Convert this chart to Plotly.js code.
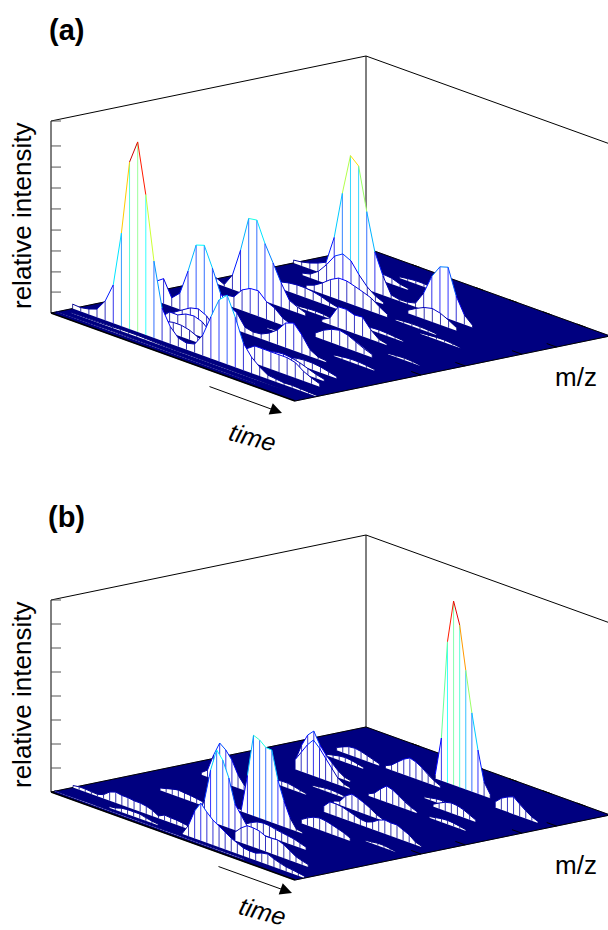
<!DOCTYPE html>
<html><head><meta charset="utf-8">
<script src="https://cdn.plot.ly/plotly-3.0.1.min.js"></script>
<style>html,body{margin:0;padding:0;background:#fff}</style></head>
<body><div id="chart" style="width:608px;height:930px"></div>
<script>
// ---- relative intensity; each row is one m/z, "from" = first scan index ----
const rowsA = [
 {mz:.90,  from:8,  h:[.006,.012,.016,.016,.012,.006]},
 {mz:.85,  from:5,  h:[.01,.02,.03,.035,.03,.015,.008]},
 {mz:.77,  from:0,  h:[.015,.02,.03,.045,.065,.21,.455,.666,.627,.405,.21,.10,.017,.008,.01,.02,.088,.19,.255,.268,.133,.05,.012]},
 {mz:.72,  from:3,  h:[.01,.02,.05,.1,.16,.186,.165,.107,.06,.028,.01]},
 {mz:.72,  from:16, h:[.015,.04,.06,.07,.06,.04,.015]},
 {mz:.655, from:6,  h:[.015,.03,.057,.09,.113,.113,.10,.086,.07,.04,.015]},
 {mz:.655, from:17, h:[.006,.01,.012,.012,.01,.006]},
 {mz:.63,  from:21, h:[.004,.008,.012,.012,.008,.004]},
 {mz:.60,  from:3,  h:[.01,.02,.035,.045,.05,.05,.045,.035,.02,.01]},
 {mz:.55,  from:16, h:[.006,.01,.014,.016,.014,.01,.006]},
 {mz:.53,  from:9,  h:[.004,.008,.012,.014,.012,.006]},
 {mz:.4985,from:0,  h:[.02,.03,.01,.075,.22,.40,.407,.30,.214,.125,.05,.03,.015]},
 {mz:.4985,from:14, h:[.012,.035,.108,.11,.096,.10,.05,.015,.006]},
 {mz:.45,  from:24, h:[.004,.008,.01,.008,.004]},
 {mz:.40,  from:3,  h:[.012,.02,.03,.05,.056,.107,.13,.133,.092,.074,.037,.02]},
 {mz:.40,  from:17, h:[.02,.05,.07,.08,.07,.05,.03,.015]},
 {mz:.35,  from:13, h:[.004,.008,.012,.012,.008,.004]},
 {mz:.33,  from:22, h:[.006,.012,.016,.016,.012,.006]},
 {mz:.28,  from:0,  h:[.02,.05,.1,.13,.045,.085,.215,.366,.38,.277,.16,.11,.09,.03,.02,.025,.045,.077,.128,.143,.096,.035,.012,.008]},
 {mz:.21,  from:6,  h:[.02,.04,.067,.093,.103,.082,.034,.012]},
 {mz:.21,  from:20, h:[.008,.015,.03,.035,.035,.03,.02,.01]},
 {mz:.17,  from:7,  h:[.03,.07,.07,.09,.095,.08,.042,.02,.01]},
 {mz:.17,  from:18, h:[.015,.03,.05,.06,.065,.06,.05,.035,.02,.01]},
 {mz:.13,  from:8,  h:[.02,.05,.06,.06,.05,.03,.02,.012]},
 {mz:.13,  from:17, h:[.015,.03,.06,.09,.09,.09,.09,.09,.08,.05,.03,.015]},
 {mz:.0686,from:0,  h:[.023,.02,.028,.043,.10,.2,.485,.87,.99,.73,.40,.17,.09,.045,.034,.044,.106,.217,.32,.36,.26,.14,.083,.047,.02,.015,.01,.012,.01,.008,.006]},
 {mz:.04,  from:1,  h:[.003,.004,.004,.004,.005,.006,.008,.009,.009,.008,.006,.004,.003,.003,.004,.004,.003,.003,.004,.004,.003,.003,.003,.004,.003,.003,.003]},
 {mz:.018, from:0,  h:[.002,.003,.003,.003,.003,.003,.004,.004,.003,.003,.003,.003,.003,.003,.003,.003,.003,.003,.003,.003,.003,.003,.002,.002,.002,.002,.002,.002]}
];
const rowsB = [
 {mz:.852, from:19, h:[.02,.222,.735,.958,.845,.62,.41,.228,.073,.02]},
 {mz:.81,  from:5,  h:[.015,.03,.042,.045,.04,.03,.02,.01]},
 {mz:.81,  from:13, h:[.012,.027,.054,.08,.098,.088,.07,.044,.024,.01]},
 {mz:.81,  from:31, h:[.03,.06,.078,.09,.064,.04,.02,.008]},
 {mz:.76,  from:6,  h:[.008,.015,.022,.025,.022,.015,.008]},
 {mz:.72,  from:24, h:[.006,.012,.018,.02,.02,.016,.01,.005]},
 {mz:.69,  from:27, h:[.012,.03,.045,.053,.05,.04,.025,.01]},
 {mz:.66,  from:6,  h:[.015,.10,.165,.197,.136,.095,.065,.035,.015,.008]},
 {mz:.62,  from:8,  h:[.05,.10,.15,.187,.156,.115,.075,.035,.015,.008]},
 {mz:.62,  from:20, h:[.01,.025,.058,.085,.076,.056,.036,.02,.008]},
 {mz:.62,  from:30, h:[.006,.012,.018,.02,.018,.012,.006]},
 {mz:.56,  from:14, h:[.005,.01,.014,.016,.014,.01,.005]},
 {mz:.51,  from:20, h:[.01,.02,.06,.08,.07,.057,.04,.02,.008]},
 {mz:.50,  from:9,  h:[.006,.012,.02,.025,.025,.02,.012,.006]},
 {mz:.44,  from:22, h:[.03,.063,.064,.06,.05,.04,.03,.027,.039,.06,.072,.068,.069,.054,.04,.015,.005]},
 {mz:.40,  from:4,  h:[.012,.036,.126,.2,.175,.134,.068,.027,.01]},
 {mz:.36,  from:33, h:[.004,.008,.012,.012,.008,.004]},
 {mz:.33,  from:24, h:[.02,.04,.055,.062,.058,.05,.04,.03,.015]},
 {mz:.275, from:16, h:[.01,.01,.2,.42,.407,.38,.377,.233,.135,.058,.012,.008]},
 {mz:.23,  from:6,  h:[.012,.02,.03,.035,.032,.03,.025,.02,.012,.006]},
 {mz:.19,  from:22, h:[.02,.04,.055,.06,.058,.05,.045,.04,.035,.025,.015]},
 {mz:.158, from:16, h:[.01,.10,.267,.383,.342,.26,.136,.09,.044,.024,.012,.01,.01,.008]},
 {mz:.10,  from:25, h:[.044,.077,.1,.1,.095,.08,.08,.083,.07,.05,.03,.02,.012]},
 {mz:.07,  from:0,  h:[.01,.015,.015,.012,.01,.02,.045,.056,.05,.05,.045,.045,.04,.03,.012,.028,.025,.025,.02,.015,.008]},
 {mz:.03,  from:8,  h:[.006,.01,.02,.024,.024,.024,.016,.01,.006]},
 {mz:.03,  from:20, h:[.004,.058,.143,.196,.16,.13,.11,.09,.07,.056,.042,.038,.038,.05,.056,.042,.032,.023,.02,.015,.01]},
 {mz:.012, from:0,  h:[.003,.003,.003,.004,.004,.005,.005,.004,.004,.003,.003,.004,.004,.004,.003,.003,.003,.003,.004,.004,.004,.003,.003,.003,.003,.003,.003,.004,.004,.004,.003,.003]}
];
const zTicksA = [.109,.214,.323,.432,.542,.651,.76,.87,1];
const zTicksB = [.125,.25,.375,.5,.625,.75,.875,1];
const mzTicks = [.40,.54,.72,.83];
const timeTicks = [.22,.48,.62,.76,.9];
const scansA = 30, scansB = 40;

// ---- oblique box used to project (scan time, m/z, intensity) on the two flat panels ----
function box(x0,y0){return {x0,y0,tx:244,ty:88,mx:315,my:-65,zy:-192};}
const geoA = box(51,313), geoB = box(51,792);
const pr = (g,t,m,z)=>[g.x0+t*g.tx+m*g.mx, g.y0+t*g.ty+m*g.my+z*g.zy];

function jet(v){
  const c=a=>Math.max(0,Math.min(1,1.5-Math.abs(4*v-a)));
  return `rgb(${Math.round(255*c(3))},${Math.round(255*c(2))},${Math.round(255*c(1))})`;
}
const NAVY='#000080';
function poly(ax,ay,pts,o){
  return {type:'scatter',mode:'lines',xaxis:ax,yaxis:ay,x:pts.map(p=>p?p[0]:null),y:pts.map(p=>p?p[1]:null),
    hoverinfo:'skip',showlegend:false,...o};
}
function panel(rows,g,ax,ay,scans,zTicks){
  const T=[];
  // floor
  T.push(poly(ax,ay,[pr(g,0,0,0),pr(g,1,0,0),pr(g,1,1,0),pr(g,0,1,0),pr(g,0,0,0)],
    {fill:'toself',fillcolor:NAVY,line:{color:NAVY,width:.5}}));
  // back frame and the two back floor edges, behind every ridge
  T.push(poly(ax,ay,[pr(g,0,0,0),pr(g,0,0,1),pr(g,0,1,1),pr(g,0,1,0),null,pr(g,0,1,1),pr(g,1,1,1),pr(g,1,1,0),null,
    pr(g,0,0,0),pr(g,0,1,0),pr(g,1,1,0)],{line:{color:'#000',width:1}}));
  // height ticks
  const tk=[];zTicks.forEach(z=>{const p=pr(g,0,0,z);tk.push(p,[p[0]+10,p[1]],null);});
  T.push(poly(ax,ay,tk,{line:{color:'#555',width:1}}));
  // floor ticks on back edge
  const ed0=[];timeTicks.forEach(t=>{ed0.push(pr(g,t,1,0),pr(g,t-.035,1,0),null);});
  T.push(poly(ax,ay,ed0,{line:{color:'#000',width:1}}));
  // ridges from back to front
  rows.forEach(r=>{
    const idx=r.h.map((_,k)=>r.from+k);
    const top=r.h.map((h,k)=>pr(g,idx[k]/scans,r.mz,h));
    const bot=idx.map(i=>pr(g,i/scans,r.mz,0));
    T.push(poly(ax,ay,top.concat(bot.slice().reverse()),{fill:'toself',fillcolor:'#fff',line:{width:0,color:'#fff'}}));
    const vert={},ridge={};
    const add=(G,v,a,b)=>{const q=Math.round(Math.min(1,v)*40)/40;(G[q]=G[q]||[]).push(a,b,null);};
    r.h.forEach((h,k)=>{
      add(vert,h/2,bot[k],top[k]);
      if(k<r.h.length-1) add(ridge,(h+r.h[k+1])/2,top[k],top[k+1]);
    });
    Object.keys(vert).forEach(q=>T.push(poly(ax,ay,vert[q],{line:{color:jet(+q),width:.8}})));
    Object.keys(ridge).forEach(q=>T.push(poly(ax,ay,ridge[q],{line:{color:jet(+q),width:1}})));
  });
  // front floor edges and ticks on top
  T.push(poly(ax,ay,[pr(g,0,0,0),pr(g,1,0,0)],{line:{color:'#000',width:1.6}}));
  T.push(poly(ax,ay,[pr(g,1,0,0),pr(g,1,1,0)],{line:{color:'#000',width:1}}));
  const ed=[];mzTicks.forEach(m=>{ed.push(pr(g,1,m,0),pr(g,.96,m,0),null);});
  T.push(poly(ax,ay,ed,{line:{color:'#000',width:1}}));
  return T;
}
const data=[...panel(rowsA,geoA,'x','y',scansA,zTicksA),...panel(rowsB,geoB,'x2','y2',scansB,zTicksB)];

const F='"Liberation Sans",Arial,sans-serif';
function note(xr,yr,x,y,text,o){
  return {xref:xr,yref:yr,x,y,text,showarrow:false,font:{family:F,size:26,color:'#000'},xanchor:'center',yanchor:'middle',...o};
}
const big=o=>({font:{family:F,size:29,color:'#000'},...o});
function arrow(xr,yr,x,y,ax,ay){
  return {xref:xr,yref:yr,axref:xr,ayref:yr,x,y,ax,ay,text:'',showarrow:true,arrowhead:2,arrowsize:2.4,arrowwidth:1,arrowcolor:'#000'};
}
const annotations=[
 note('x','y',66,30,'<b>(a)</b>',big()),
 note('x','y',22,216,'relative intensity',{textangle:-90}),
 note('x','y',576,377,'m/z'),
 note('x','y',252,437,'<i>time</i>',{textangle:15,font:{family:F,size:25,color:'#000'}}),
 arrow('x','y',282,413,208,386),
 note('x2','y2',66,517,'<b>(b)</b>',big()),
 note('x2','y2',22,695,'relative intensity',{textangle:-90}),
 note('x2','y2',576,865,'m/z'),
 note('x2','y2',262,911,'<i>time</i>',{textangle:15,font:{family:F,size:25,color:'#000'}}),
 arrow('x2','y2',292,893,217,866)
];
const hidden={visible:false,fixedrange:true};
Plotly.newPlot('chart',data,{
  width:608,height:930,margin:{l:0,r:0,t:0,b:0},paper_bgcolor:'#fff',plot_bgcolor:'#fff',showlegend:false,
  xaxis:{...hidden,domain:[0,1],range:[0,608],anchor:'y'},
  yaxis:{...hidden,domain:[.5,1],range:[465,0],anchor:'x'},
  xaxis2:{...hidden,domain:[0,1],range:[0,608],anchor:'y2'},
  yaxis2:{...hidden,domain:[0,.5],range:[930,465],anchor:'x2'},
  annotations
},{displayModeBar:false,staticPlot:true});
</script></body></html>
